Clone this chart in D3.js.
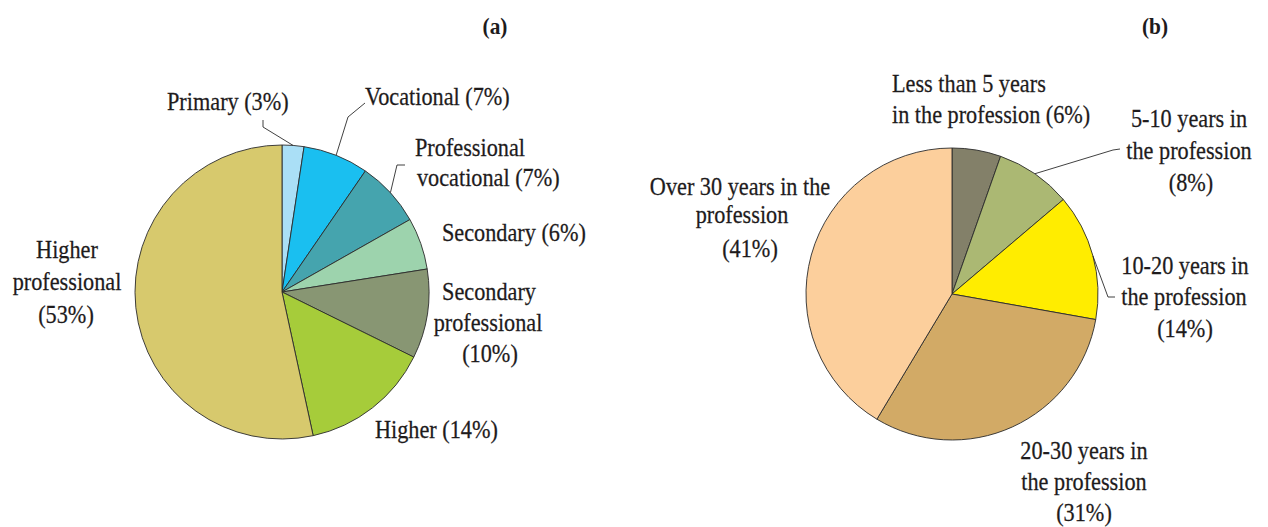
<!DOCTYPE html>
<html>
<head>
<meta charset="utf-8">
<script src="https://cdn.jsdelivr.net/npm/d3@7"></script>
<style>
  html, body { margin: 0; padding: 0; background: #fff; }
  svg { display: block; }
  text { font-family: 'Liberation Serif', 'Times New Roman', serif; fill: #1e1b1c; }
</style>
</head>
<body>
<svg width="1268" height="527"></svg>
<script>
// (a) education level
const eduCategories = ['Primary', 'Vocational', 'Professional vocational', 'Secondary',
  'Secondary professional', 'Higher', 'Higher professional']
const eduShares = [2.4, 7.2, 7.2, 5.7, 9.8, 14.3, 53.4]
const eduLabels = [
  ['Primary (3%)'],
  ['Vocational (7%)'],
  ['Professional', 'vocational (7%)'],
  ['Secondary (6%)'],
  ['Secondary', 'professional', '(10%)'],
  ['Higher (14%)'],
  ['Higher', 'professional', '(53%)']
]
const eduColors = ['#aadff6', '#1abff0', '#45a4ae', '#9dd3ad', '#889673', '#a6cc3a', '#d7c96d']

// (b) years in the profession
const expCategories = ['<5', '5-10', '10-20', '20-30', '>30']
const expShares = [5.4, 8.4, 14.0, 30.8, 41.4]
const expLabels = [
  ['Less than 5 years', 'in the profession (6%)'],
  ['5-10 years in', 'the profession', '(8%)'],
  ['10-20 years in', 'the profession', '(14%)'],
  ['20-30 years in', 'the profession', '(31%)'],
  ['Over 30 years in the', 'profession', '(41%)']
]
const expColors = ['#838069', '#abb873', '#ffed00', '#d2aa66', '#fccf9c']

// label placement: anchor, one [x, baseline] per line, optional leader elbow points
const eduLayout = [
  { anchor: 'start', lines: [[167, 110]], leader: [[263, 120], [263, 127]] },
  { anchor: 'start', lines: [[365, 105]], leader: [[365, 103], [348, 117]] },
  { anchor: 'start', lines: [[415, 156], [417, 186]], leader: [[405, 165], [397, 165]] },
  { anchor: 'start', lines: [[442, 241]] },
  { anchor: 'middle', lines: [[489, 300], [488, 331], [490, 362]] },
  { anchor: 'start', lines: [[375, 438]] },
  { anchor: 'middle', lines: [[67, 258], [67, 290], [66, 323]] }
]
const expLayout = [
  { anchor: 'start', lines: [[892, 92], [892, 123]] },
  { anchor: 'middle', lines: [[1189, 127], [1189, 159], [1191, 191]], leader: [[1120, 149], [1113, 150]] },
  { anchor: 'middle', lines: [[1185, 274], [1184, 305], [1185, 337]], leader: [[1115, 297], [1108, 297]] },
  { anchor: 'middle', lines: [[1084, 459], [1084, 490], [1084, 521]] },
  { anchor: 'middle', lines: [[740, 195], [742, 223], [750, 257]] }
]

const svg = d3.select('svg')
const squeeze = 0.89 // the original face is a condensed serif

function drawPie (opts) {
  const pie = d3.pie().sort(null).value(d => d)
  const arcs = pie(opts.values)
  const arc = d3.arc().innerRadius(0).outerRadius(opts.r)
  const g = svg.append('g').attr('transform', `translate(${opts.cx},${opts.cy})`)

  g.selectAll('path')
    .data(arcs)
    .join('path')
    .attr('d', arc)
    .attr('fill', (d, i) => opts.colors[i])
    .attr('stroke', '#2b2b2b')
    .attr('stroke-width', 0.9)
    .attr('stroke-linejoin', 'round')

  // leaders end on the rim at the middle of their slice
  const line = d3.line()
  arcs.forEach((d, i) => {
    const lay = opts.layout[i]
    if (!lay.leader) return
    const a = (d.startAngle + d.endAngle) / 2
    const rim = [opts.cx + opts.r * Math.sin(a), opts.cy - opts.r * Math.cos(a)]
    svg.append('path')
      .attr('d', line(lay.leader.concat([rim])))
      .attr('fill', 'none')
      .attr('stroke', '#2b2b2b')
      .attr('stroke-width', 0.9)
  })

  opts.labels.forEach((lines, i) => {
    const lay = opts.layout[i]
    lines.forEach((t, j) => {
      const [x, y] = lay.lines[j]
      svg.append('text')
        .attr('transform', `translate(${x},${y}) scale(${squeeze},1)`)
        .attr('text-anchor', lay.anchor)
        .attr('font-size', 25)
        .attr('stroke', '#1e1b1c')
        .attr('stroke-width', 0.25)
        .text(t)
    })
  })

  svg.append('text')
    .attr('transform', `translate(${opts.titleX},34) scale(${squeeze},1)`)
    .attr('text-anchor', 'middle')
    .attr('font-size', 24)
    .attr('font-weight', 'bold')
    .text(opts.title)
}

drawPie({
  title: '(a)', titleX: 495,
  cx: 282, cy: 292, r: 147,
  values: eduShares, colors: eduColors, labels: eduLabels, layout: eduLayout
})

drawPie({
  title: '(b)', titleX: 1155,
  cx: 952, cy: 294, r: 146,
  values: expShares, colors: expColors, labels: expLabels, layout: expLayout
})
</script>
</body>
</html>
